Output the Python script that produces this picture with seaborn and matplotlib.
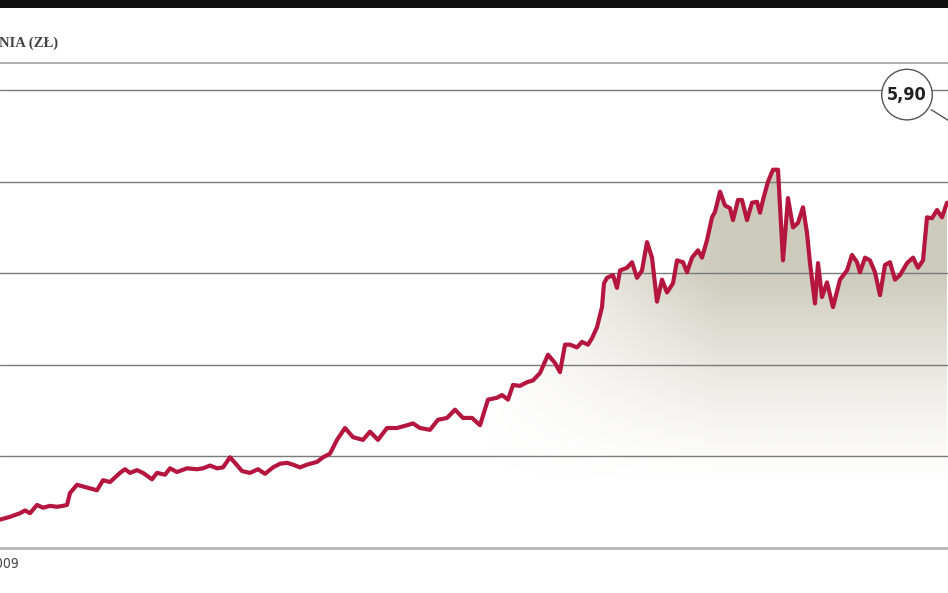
import numpy as np
import pandas as pd
import matplotlib
matplotlib.use("Agg")
import matplotlib.pyplot as plt
import seaborn as sns
from matplotlib.patches import Rectangle

# trading-day index and share price (zł)
day = [0, 10, 20, 25, 30, 37, 43, 50, 57, 63, 67, 70, 77, 87, 97, 103, 110, 120, 125, 130,
       137, 143, 152, 157, 165, 170, 177, 187, 197, 203, 210, 217, 223, 230, 235, 242, 250, 258, 265, 273,
       280, 287, 293, 300, 307, 317, 323, 330, 337, 345, 353, 363, 370, 378, 387, 397, 407, 413, 420, 430,
       438, 447, 455, 463, 472, 480, 488, 497, 502, 508, 513, 520, 527, 533, 540, 548, 555, 560, 565, 570,
       577, 582, 588, 592, 597, 602, 604, 607, 613, 617, 620, 627, 632, 637, 642, 647, 652, 657, 662, 667,
       673, 677, 683, 687, 692, 698, 702, 707, 712, 715, 720, 725, 730, 733, 738, 742, 747, 752, 757, 760,
       763, 768, 773, 778, 783, 788, 793, 798, 803, 807, 810, 815, 818, 822, 827, 833, 840, 847, 852, 857,
       860, 865, 870, 875, 880, 885, 890, 895, 900, 907, 913, 918, 923, 927, 932, 937, 942, 947]
price = [1.31, 1.34, 1.38, 1.41, 1.38, 1.47, 1.44, 1.46, 1.45, 1.46, 1.47, 1.60, 1.69, 1.66, 1.63, 1.74, 1.72, 1.82, 1.86, 1.82,
         1.85, 1.82, 1.75, 1.82, 1.80, 1.87, 1.83, 1.87, 1.86, 1.87, 1.90, 1.87, 1.88, 1.99, 1.93, 1.84, 1.82, 1.86, 1.81, 1.88,
         1.92, 1.93, 1.91, 1.88, 1.91, 1.94, 1.99, 2.03, 2.18, 2.31, 2.21, 2.18, 2.27, 2.18, 2.31, 2.31, 2.34, 2.36, 2.31, 2.29,
         2.40, 2.42, 2.51, 2.42, 2.42, 2.34, 2.62, 2.64, 2.67, 2.62, 2.78, 2.77, 2.81, 2.83, 2.91, 3.11, 3.02, 2.92, 3.22, 3.22,
         3.19, 3.25, 3.22, 3.29, 3.41, 3.63, 3.89, 3.95, 3.98, 3.84, 4.03, 4.06, 4.12, 3.95, 4.03, 4.34, 4.17, 3.69, 3.93, 3.79,
         3.89, 4.14, 4.12, 4.01, 4.17, 4.25, 4.17, 4.36, 4.61, 4.67, 4.89, 4.74, 4.71, 4.58, 4.80, 4.80, 4.58, 4.77, 4.78, 4.66,
         4.80, 5.00, 5.13, 5.13, 4.14, 4.82, 4.50, 4.55, 4.72, 4.44, 4.11, 3.67, 4.11, 3.74, 3.90, 3.63, 3.93, 4.03, 4.20, 4.12,
         4.01, 4.17, 4.14, 4.01, 3.76, 4.09, 4.12, 3.93, 3.98, 4.11, 4.17, 4.06, 4.14, 4.61, 4.60, 4.69, 4.61, 4.77]
last_label = "5,90"
title_text = "NIA (ZŁ)"
year_label = "2009"

df = pd.DataFrame({"day": day, "price": price})

sns.set_style("white")
plt.rcParams["font.family"] = ["DejaVu Sans"]

fig = plt.figure(figsize=(9.48, 5.93), dpi=100)
ax = fig.add_axes([0, 45 / 593, 1, 485 / 593])
ax.set_xlim(0, 948)
ax.set_ylim(1, 6.295)

# gradient fill under the curve (fades out to the left and downward)
xs = np.linspace(0, 948, 400)
vs = np.linspace(1, 6.295, 300)
X, V = np.meshgrid(xs, vs)
alpha = 0.9 * np.clip((X - 480) / 240, 0, 1) * np.clip((V - 1.7) / 2.3, 0, 1) ** 1.3
img = np.zeros((len(vs), len(xs), 4))
img[..., 0] = 0xc8 / 255
img[..., 1] = 0xc5 / 255
img[..., 2] = 0xb5 / 255
img[..., 3] = alpha
poly = ax.fill_between(df["day"], df["price"], 1, facecolor="none", edgecolor="none")
im = ax.imshow(img, extent=[0, 948, 1, 6.295], origin="lower", aspect="auto", zorder=1)
im.set_clip_path(poly.get_paths()[0], transform=ax.transData)

sns.lineplot(data=df, x="day", y="price", ax=ax, color="#b5163f", linewidth=3.0, zorder=4)

ax.set_yticks([2, 3, 4, 5, 6])
ax.grid(axis="y", color="#7a7a7a", linewidth=1.0)
ax.set_axisbelow(False)
ax.tick_params(left=False, bottom=False, labelleft=False, labelbottom=False)
ax.set_xlabel("")
ax.set_ylabel("")
for s in ["left", "right"]:
    ax.spines[s].set_visible(False)
ax.spines["top"].set_color("#a8a8a8")
ax.spines["top"].set_linewidth(1.3)
ax.spines["bottom"].set_color("#b4b4b4")
ax.spines["bottom"].set_linewidth(2)

# value bubble pointing to the last close (off to the right of this crop)
ax.annotate(last_label, xy=(995, 5.35), xytext=(907, 5.95),
            ha="center", va="center", fontsize=13, fontweight="semibold",
            fontstretch="condensed", color="#222222",
            bbox=dict(boxstyle="circle,pad=0.3", fc="white", ec="#555555", lw=1),
            arrowprops=dict(arrowstyle="-", color="#555555", lw=1),
            annotation_clip=False, zorder=6)

# black band along the top edge
fig.patches.append(Rectangle((0, 1 - 8 / 593), 1, 8 / 593, transform=fig.transFigure,
                             facecolor="#111111", edgecolor="none"))

fig.text(58 / 948, 1 - 43 / 593, title_text, ha="right", va="center", fontsize=10.5,
         fontweight="bold", family=["Liberation Serif", "DejaVu Serif"], color="#444444")
fig.text(19 / 948, 1 - 564 / 593, year_label, ha="right", va="center", fontsize=10,
         fontstretch="condensed", color="#444444")

fig.savefig("out.png", dpi=100)
